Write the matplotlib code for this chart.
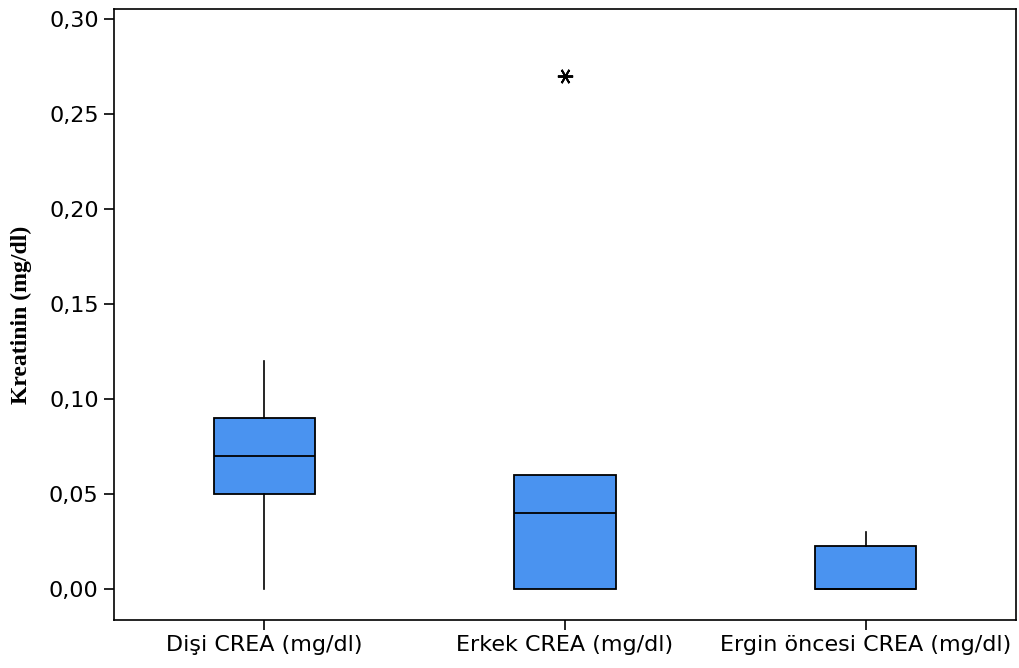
import matplotlib.pyplot as plt

# box statistics per group
groups = ['Dişi CREA (mg/dl)', 'Erkek CREA (mg/dl)', 'Ergin öncesi CREA (mg/dl)']
q1 = [0.05, 0.00, 0.00]
median = [0.07, 0.04, 0.00]
q3 = [0.09, 0.06, 0.0225]
whislo = [0.00, 0.00, 0.00]
whishi = [0.12, 0.06, 0.03]
outliers = [[], [0.27], []]
yticks = [0.00, 0.05, 0.10, 0.15, 0.20, 0.25, 0.30]

stats = []
for i, g in enumerate(groups):
    stats.append({'label': g, 'q1': q1[i], 'med': median[i], 'q3': q3[i],
                  'whislo': whislo[i], 'whishi': whishi[i], 'fliers': outliers[i]})

fig = plt.figure(figsize=(10.2, 6.68), dpi=100)
ax = fig.add_axes([114 / 1020, 48 / 668, 902 / 1020, 611 / 668])

ax.bxp(stats, positions=[1, 2, 3], widths=0.336, patch_artist=True, showcaps=False,
       boxprops=dict(facecolor='#4a93f0', edgecolor='black', linewidth=1.3),
       medianprops=dict(color='black', linewidth=1.3),
       whiskerprops=dict(color='black', linewidth=1.2),
       flierprops=dict(marker=(6, 2, 90), markersize=11, markeredgecolor='black',
                       markeredgewidth=1.4, color='black'))

ax.set_xlim(0.5, 3.5)
ax.set_ylim(-0.0163, 0.3053)
ax.set_yticks(yticks)
ax.set_yticklabels([f'{v:.2f}'.replace('.', ',') for v in yticks], fontsize=16)
ax.set_xticks([1, 2, 3])
ax.set_xticklabels(groups, fontsize=16)
ax.tick_params(direction='out', length=7, width=1.2, pad=4)
for s in ax.spines.values():
    s.set_linewidth(1.2)

ax.set_ylabel('Kreatinin (mg/dl)', fontsize=17, fontweight='bold',
              family='Liberation Serif', labelpad=12)

fig.savefig('out.png', dpi=100)
